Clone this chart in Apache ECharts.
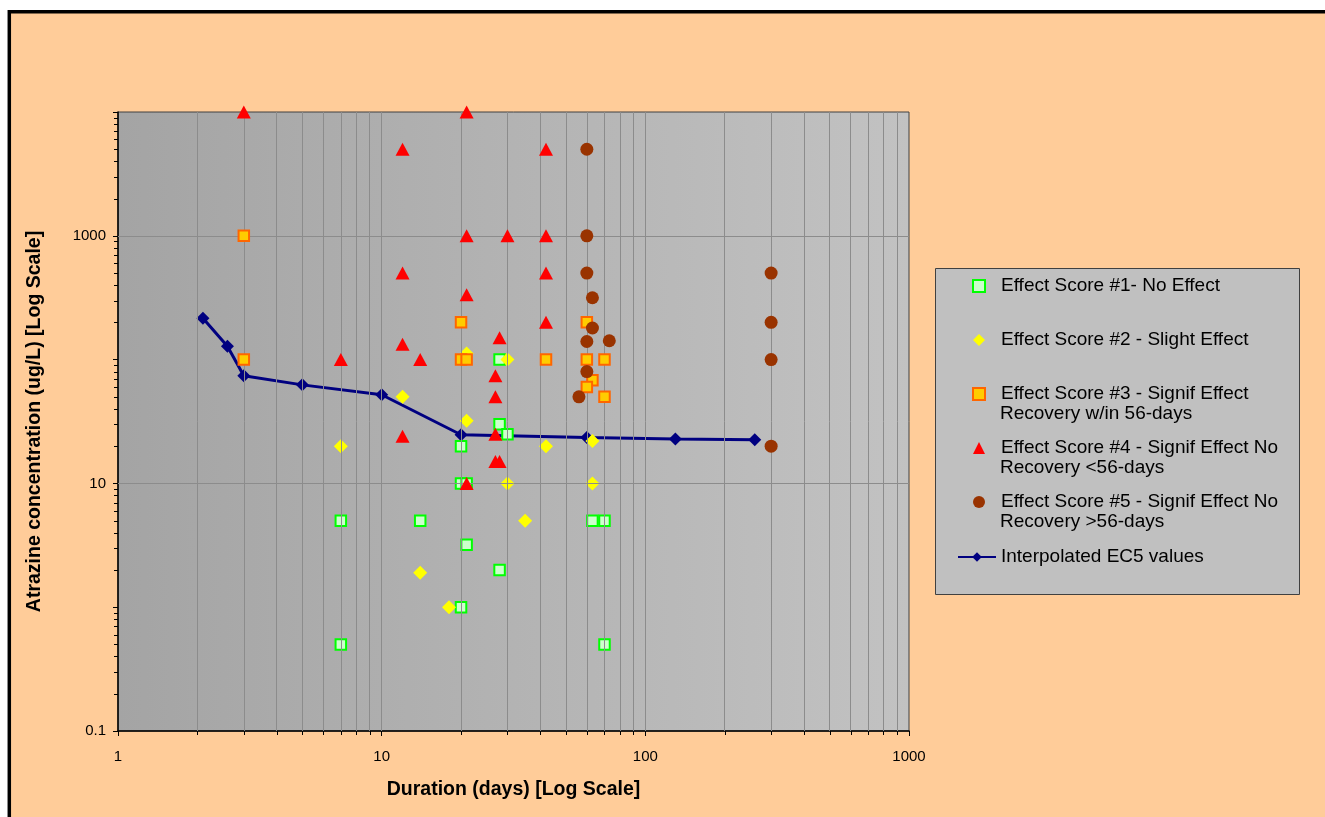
<!DOCTYPE html>
<html>
<head>
<meta charset="utf-8">
<title>Atrazine effect scores</title>
<script src="https://cdn.jsdelivr.net/npm/echarts@6/dist/echarts.min.js"></script>
<style>
  html, body { margin: 0; padding: 0; background: #ffffff; }
  #chart { width: 1325px; height: 817px; }
</style>
</head>
<body>
<div id="chart"></div>
<script>
// effect score #1 - no effect
const score1X = [7, 7, 14, 20, 20, 21, 20, 21, 28, 28, 28, 30, 63, 70, 70]
const score1Y = [5, 0.5, 5, 20, 10, 10, 1, 3.2, 100, 30, 2, 25, 5, 5, 0.5]
// effect score #2 - slight effect
const score2X = [7, 12, 14, 18, 21, 21, 30, 30, 35, 42, 63, 63]
const score2Y = [20, 50, 1.9, 1, 112, 32, 100, 10, 5, 20, 22, 10]
// effect score #3
const score3X = [3, 3, 20, 20, 21, 42, 60, 60, 70, 63, 60, 70]
const score3Y = [1000, 100, 200, 100, 100, 100, 200, 100, 100, 68, 60, 50]
// effect score #4
const score4X = [3, 7, 12, 12, 12, 12, 14, 21, 21, 21, 21, 27, 27, 27, 27, 28, 28, 30, 42, 42, 42, 42]
const score4Y = [10000, 100, 5000, 500, 133, 24, 100, 10000, 1000, 334, 10, 74, 50, 25, 15, 15, 150, 1000, 5000, 1000, 500, 200]
// effect score #5
const score5X = [60, 60, 60, 63, 63, 60, 73, 60, 56, 300, 300, 300, 300]
const score5Y = [5000, 1000, 500, 316, 180, 140, 142, 80, 50, 500, 200, 100, 20]
// interpolated EC5
const ec5X = [2.1, 2.6, 3, 5, 10, 20, 60, 130, 260]
const ec5Y = [216, 128, 74, 62.5, 52, 24.7, 23.5, 22.8, 22.5]

const seriesNames = [
  'Effect Score #1- No Effect',
  'Effect Score #2 - Slight Effect',
  'Effect Score #3 - Signif Effect\nRecovery w/in 56-days',
  'Effect Score #4 - Signif Effect No\nRecovery <56-days',
  'Effect Score #5 - Signif Effect No\nRecovery >56-days',
  'Interpolated EC5 values'
]
const yLabelValues = [0.1, 10, 1000]
const yGridValues = [10, 1000]
// minor positions of the log scales (2..9 of each decade)
const xMinorValues = [2, 3, 4, 5, 6, 7, 8, 9, 20, 30, 40, 50, 60, 70, 80, 90, 200, 300, 400, 500, 600, 700, 800, 900]
const xGridValues = xMinorValues.concat([10, 100])
const yMinorValues = [0.2, 0.3, 0.4, 0.5, 0.6, 0.7, 0.8, 0.9, 2, 3, 4, 5, 6, 7, 8, 9, 20, 30, 40, 50, 60, 70, 80, 90,
  200, 300, 400, 500, 600, 700, 800, 900, 2000, 3000, 4000, 5000, 6000, 7000, 8000, 9000]

const FONT = '"Liberation Sans", Arial, sans-serif'

function pairs(xs, ys) {
  return xs.map((x, i) => [x, ys[i]])
}

const chart = echarts.init(document.getElementById('chart'), null, { renderer: 'canvas' })

// tick marks: kind 0 = y minor tick, kind 1 = x minor tick
let tickData = []
yMinorValues.forEach(v => tickData.push([1, v, 0]))
xMinorValues.forEach(v => tickData.push([v, 0.1, 1]))

function renderTick(params, api) {
  const kind = api.value(2)
  const p = api.coord([api.value(0), api.value(1)])
  if (kind === 0) {
    return { type: 'line', shape: { x1: p[0] - 4, y1: Math.round(p[1]) + 0.5, x2: p[0], y2: Math.round(p[1]) + 0.5 }, style: { stroke: '#000', lineWidth: 1 } }
  }
  return { type: 'line', shape: { x1: Math.round(p[0]) + 0.5, y1: p[1], x2: Math.round(p[0]) + 0.5, y2: p[1] + 4 }, style: { stroke: '#000', lineWidth: 1 } }
}

let gridLines = []
xGridValues.forEach(v => gridLines.push({ xAxis: v }))
yGridValues.forEach(v => gridLines.push({ yAxis: v }))

const legendFirstLine = name => name.split('\n')[0]
const secondLine = i => seriesNames[i].split('\n')[1]

let option = {
  backgroundColor: '#ffffff',
  animation: false,
  textStyle: { fontFamily: FONT },
  grid: {
    left: 118, top: 112, width: 791, height: 619,
    show: true,
    borderColor: '#404040',
    borderWidth: 1,
    backgroundColor: {
      type: 'linear', x: 0, y: 0, x2: 1, y2: 0,
      colorStops: [
        { offset: 0, color: '#a4a4a4' },
        { offset: 1, color: '#c2c2c2' }
      ]
    }
  },
  graphic: [
    {
      type: 'rect', z: -100, silent: true,
      shape: { x: 9.3, y: 11.8, width: 1400, height: 900 },
      style: { fill: '#FFCC99', stroke: '#000000', lineWidth: 3.5 }
    },
    {
      type: 'rect', z: 1, silent: true,
      shape: { x: 935.5, y: 268.5, width: 364, height: 326 },
      style: { fill: '#C0C0C0', stroke: '#404040', lineWidth: 1 }
    },
    { type: 'text', z: 10, silent: true, style: { x: 1000, y: 414, text: secondLine(2), font: '19px ' + FONT, fill: '#000', verticalAlign: 'middle' } },
    { type: 'text', z: 10, silent: true, style: { x: 1000, y: 468, text: secondLine(3), font: '19px ' + FONT, fill: '#000', verticalAlign: 'middle' } },
    { type: 'text', z: 10, silent: true, style: { x: 1000, y: 522, text: secondLine(4), font: '19px ' + FONT, fill: '#000', verticalAlign: 'middle' } }
  ],
  legend: [
    {
      orient: 'vertical',
      left: 967, top: 271,
      itemWidth: 12, itemHeight: 12,
      itemGap: 34,
      selectedMode: false,
      data: seriesNames.slice(0, 5),
      formatter: legendFirstLine,
      textStyle: { fontSize: 19, color: '#000', fontFamily: FONT, lineHeight: 20, padding: [0, 0, 0, 11] }
    },
    {
      orient: 'vertical',
      left: 952, top: 542,
      itemWidth: 38, itemHeight: 12,
      selectedMode: false,
      data: [seriesNames[5]],
      textStyle: { fontSize: 19, color: '#000', fontFamily: FONT, lineHeight: 20 }
    }
  ],
  xAxis: {
    type: 'log', logBase: 10, min: 1, max: 1000,
    name: 'Duration (days) [Log Scale]',
    nameLocation: 'middle',
    nameGap: 49,
    nameTextStyle: { fontSize: 19.5, fontWeight: 'bold', color: '#000', fontFamily: FONT },
    axisLine: { lineStyle: { color: '#000', width: 1.5 } },
    axisTick: { show: true, length: 5, lineStyle: { color: '#000' } },
    axisLabel: { fontSize: 15, color: '#000', margin: 18, fontFamily: FONT, formatter: v => String(v) },
    splitLine: { show: false }
  },
  yAxis: {
    type: 'log', logBase: 10, min: 0.1, max: 10000,
    name: 'Atrazine concentration (ug/L) [Log Scale]',
    nameLocation: 'middle',
    nameRotate: 90,
    nameGap: 73,
    nameTextStyle: { fontSize: 19.5, fontWeight: 'bold', color: '#000', fontFamily: FONT },
    axisLine: { show: true, lineStyle: { color: '#000', width: 1.5 } },
    axisTick: { show: true, length: 5, lineStyle: { color: '#000' } },
    axisLabel: {
      fontSize: 15, color: '#000', margin: 12, fontFamily: FONT,
      formatter: function (v) {
        let hit = yLabelValues.find(t => Math.abs(Math.log10(t) - Math.log10(v)) < 1e-6)
        return hit === undefined ? '' : String(hit)
      }
    },
    splitLine: { show: false }
  },
  series: [
    {
      // gridlines and minor ticks
      type: 'custom',
      name: 'ticks',
      silent: true,
      clip: false,
      z: 1,
      dimensions: ['x', 'y', 'k'],
      encode: { x: 0, y: 1 },
      renderItem: renderTick,
      data: tickData,
      markLine: {
        silent: true,
        symbol: ['none', 'none'],
        label: { show: false },
        emphasis: { disabled: true },
        lineStyle: { color: '#8c8c8c', width: 1, type: 'solid' },
        data: gridLines
      }
    },
    {
      type: 'line',
      name: seriesNames[5],
      z: 2,
      data: pairs(ec5X, ec5Y),
      symbol: 'diamond',
      symbolSize: 13,
      lineStyle: { color: '#000080', width: 3 },
      itemStyle: { color: '#000080' },
      clip: false
    },
    {
      type: 'scatter',
      name: seriesNames[0],
      z: 3,
      data: pairs(score1X, score1Y),
      symbol: 'rect',
      symbolSize: 10.5,
      clip: false,
      itemStyle: { color: '#CCFFCC', borderColor: '#00FF00', borderWidth: 2, opacity: 1 }
    },
    {
      type: 'scatter',
      name: seriesNames[1],
      z: 4,
      data: pairs(score2X, score2Y),
      symbol: 'diamond',
      symbolSize: 14,
      clip: false,
      itemStyle: { color: '#FFFF00', opacity: 1 }
    },
    {
      type: 'scatter',
      name: seriesNames[2],
      z: 5,
      data: pairs(score3X, score3Y),
      symbol: 'rect',
      symbolSize: 10.5,
      clip: false,
      itemStyle: { color: '#FFCC00', borderColor: '#FF6600', borderWidth: 2, opacity: 1 }
    },
    {
      type: 'scatter',
      name: seriesNames[3],
      z: 6,
      data: pairs(score4X, score4Y),
      symbol: 'triangle',
      symbolSize: [14, 13],
      clip: false,
      itemStyle: { color: '#FF0000', opacity: 1 }
    },
    {
      type: 'scatter',
      name: seriesNames[4],
      z: 7,
      data: pairs(score5X, score5Y),
      symbol: 'circle',
      symbolSize: 13,
      clip: false,
      itemStyle: { color: '#993300', opacity: 1 }
    }
  ]
}

chart.setOption(option)
window.addEventListener('resize', () => chart.resize())
</script>
</body>
</html>
